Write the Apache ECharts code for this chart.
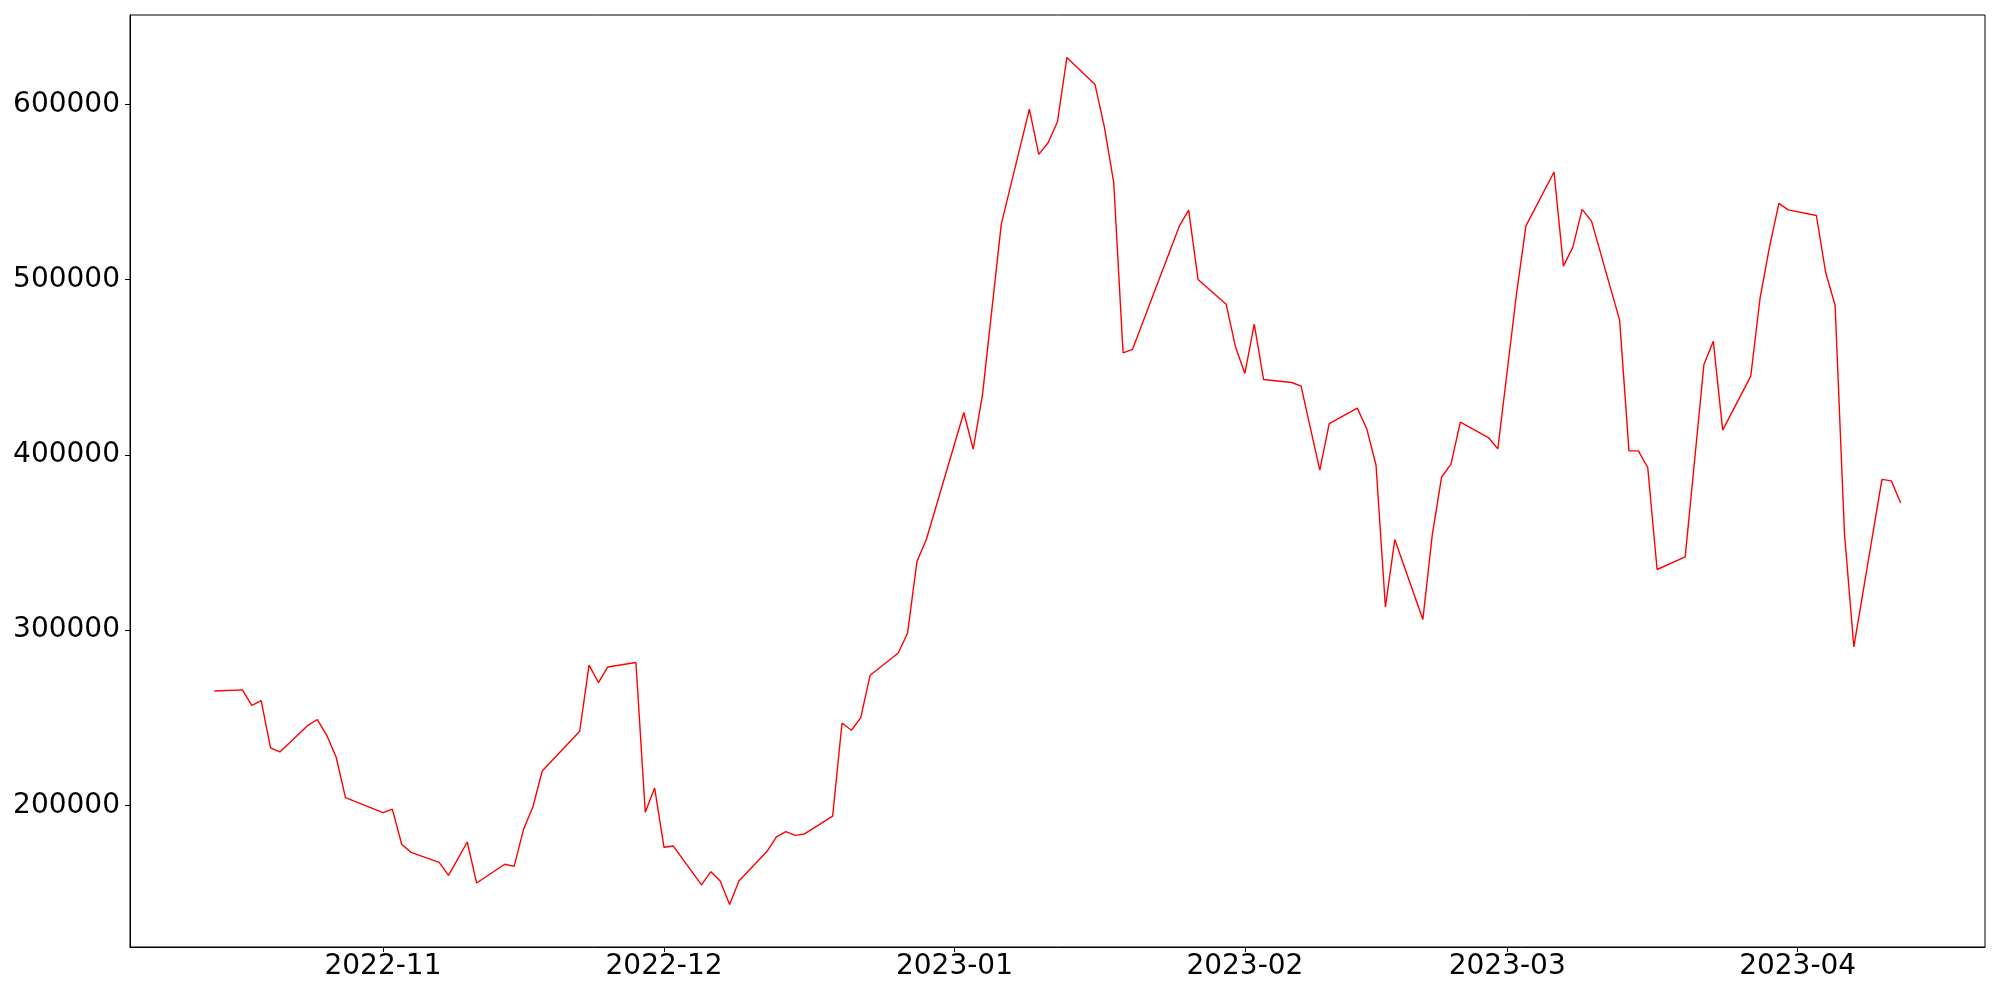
<!DOCTYPE html>
<html><head><meta charset="utf-8">
<script src="https://cdn.jsdelivr.net/npm/echarts@6/dist/echarts.min.js"></script>
<style>html,body{margin:0;padding:0;background:#fff}#c{width:2000px;height:1000px}</style>
</head><body><div id="c"></div>
<script>
const dates = ['2022-10-14','2022-10-17','2022-10-18','2022-10-19','2022-10-20','2022-10-21','2022-10-24','2022-10-25','2022-10-26','2022-10-27','2022-10-28',
'2022-11-01','2022-11-02','2022-11-03','2022-11-04','2022-11-07','2022-11-08','2022-11-10','2022-11-11','2022-11-14','2022-11-15','2022-11-16','2022-11-17','2022-11-18','2022-11-22','2022-11-23','2022-11-24','2022-11-25','2022-11-28','2022-11-29','2022-11-30',
'2022-12-01','2022-12-02','2022-12-05','2022-12-06','2022-12-07','2022-12-08','2022-12-09','2022-12-12','2022-12-13','2022-12-14','2022-12-15','2022-12-16','2022-12-19','2022-12-20','2022-12-21','2022-12-22','2022-12-23','2022-12-26','2022-12-27','2022-12-28','2022-12-29',
'2023-01-02','2023-01-03','2023-01-04','2023-01-06','2023-01-09','2023-01-10','2023-01-11','2023-01-12','2023-01-13','2023-01-16','2023-01-17','2023-01-18','2023-01-19','2023-01-20','2023-01-25','2023-01-26','2023-01-27','2023-01-30','2023-01-31',
'2023-02-01','2023-02-02','2023-02-03','2023-02-06','2023-02-07','2023-02-08','2023-02-09','2023-02-10','2023-02-13','2023-02-14','2023-02-15','2023-02-16','2023-02-17','2023-02-20','2023-02-21','2023-02-22','2023-02-23','2023-02-24','2023-02-27','2023-02-28',
'2023-03-02','2023-03-03','2023-03-06','2023-03-07','2023-03-08','2023-03-09','2023-03-10','2023-03-13','2023-03-14','2023-03-15','2023-03-16','2023-03-17','2023-03-20','2023-03-22','2023-03-23','2023-03-24','2023-03-27','2023-03-28','2023-03-29','2023-03-30','2023-03-31',
'2023-04-03','2023-04-04','2023-04-05','2023-04-06','2023-04-07','2023-04-10','2023-04-11','2023-04-12'];
const values = [265300,265900,257100,259800,232800,230500,245700,249000,240000,227600,204400,
195900,197900,177800,173200,167500,160100,179100,155700,166400,165200,186200,199100,219600,242300,280000,270100,279000,281500,196100,209900,
176100,176800,154600,162200,156900,143400,156900,173800,182000,185000,182900,183700,193900,247000,242900,250100,274300,287000,298400,339200,351700,
424200,403300,434500,531700,597300,571500,578100,590100,626800,611400,587200,555500,458200,460200,530500,539700,500100,486000,461600,
446500,474600,443000,441300,439200,415100,391300,417900,426700,415100,394100,313200,351700,306100,354200,387400,394700,418700,409900,403400,
492100,530700,561400,507700,518400,540100,533400,476900,402300,402300,392800,334600,341800,451600,464900,414100,444900,489800,518700,543500,539800,
536600,503900,485400,355100,290400,386000,385200,372600];
const yTicks = [200000,300000,400000,500000,600000];
const xTickDates = ['2022-11-01','2022-12-01','2023-01-01','2023-02-01','2023-03-01','2023-04-01'];
const xTickLabels = ['2022-11','2022-12','2023-01','2023-02','2023-03','2023-04'];

function ts(s){const p=s.split('-').map(Number);return new Date(p[0],p[1]-1,p[2]).getTime();}
const xTicks = xTickDates.map(ts);
const labelMap = {};
xTicks.forEach((t,i)=>{labelMap[t]=xTickLabels[i];});

const chart = echarts.init(document.getElementById('c'), null, {renderer:'canvas'});
chart.setOption({
  animation:false,
  backgroundColor:'#fff',
  grid:{left:130,right:15,top:15,bottom:53,show:true,borderColor:'#000',borderWidth:1,backgroundColor:'transparent'},
  xAxis:{
    type:'value',
    min:ts('2022-10-05'), max:ts('2023-04-21'),
    axisLine:{show:true,lineStyle:{color:'#000',width:1}},
    axisTick:{show:true,length:5,inside:false,lineStyle:{color:'#000',width:1},customValues:xTicks},
    axisLabel:{customValues:xTicks,formatter:v=>labelMap[v]||'',color:'#000',fontFamily:'DejaVu Sans',fontSize:28,margin:6},
    splitLine:{show:false}
  },
  yAxis:{
    type:'value',
    min:119200, max:651000,
    axisLine:{show:true,lineStyle:{color:'#000',width:1}},
    axisTick:{show:true,length:5,inside:false,lineStyle:{color:'#000',width:1},customValues:yTicks},
    axisLabel:{customValues:yTicks,formatter:v=>String(v),color:'#000',fontFamily:'DejaVu Sans',fontSize:28,margin:10},
    splitLine:{show:false}
  },
  series:[{
    type:'line',
    data:dates.map((d,i)=>[ts(d),values[i]]),
    showSymbol:false,
    symbol:'none',
    lineStyle:{color:'#ff0000',width:1.4},
    itemStyle:{color:'#ff0000'}
  }]
});
</script>
</body></html>
